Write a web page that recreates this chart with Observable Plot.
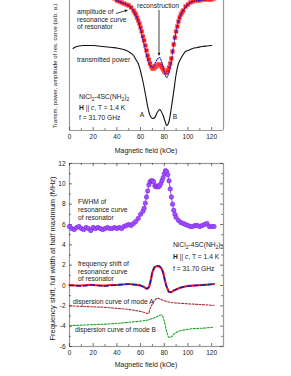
<!DOCTYPE html>
<html><head><meta charset="utf-8">
<script src="https://cdn.jsdelivr.net/npm/d3@7"></script>
<script src="https://cdn.jsdelivr.net/npm/@observablehq/plot@0.6"></script>
<style>
html,body{margin:0;padding:0;background:#fff;}
#wrap{position:relative;width:291px;height:376px;overflow:hidden;background:#fff;}
#wrap svg{position:absolute;left:0;}
</style></head><body><div id="wrap"></div>
<script>
// ---------- Top panel data (arb. units) ----------
const ampField = [36,38,40,42,44,46,48,50,52,54,55,56,57,58,59,60,61,62,63,64,65,66,67,68,69,70,71,72,73,74,75,76,77,78,79,80,81,82,83,84,85,86,87,88,89,90,91,92,93,94,95,96,98,100,102,104,106,108,110,112,114,116,118,120,122];
const ampValue = [13.3,13.2,13.0,12.9,12.8,12.7,12.6,12.5,12.3,12.0,11.8,11.6,11.3,11.0,10.7,10.3,9.9,9.4,9.0,8.5,8.0,7.5,7.1,6.7,6.4,6.2,6.2,6.3,6.4,6.5,6.6,6.6,6.5,6.3,6.1,5.9,5.8,5.8,6.0,6.3,6.7,7.2,7.9,8.6,9.3,9.9,10.4,10.9,11.3,11.6,11.8,12.0,12.4,12.6,12.8,12.9,13.0,13.0,13.0,13.1,13.1,13.1,13.1,13.1,13.2];
const recField = [36,40,44,48,52,56,58,60,62,64,66,68,70,72,74,76,78,80,82,84,86,88,90,92,94,96,100,104,110,116,122];
const recValue = [13.3,13.0,12.8,12.6,12.3,11.5,10.9,10.1,9.1,8.1,7.1,6.5,6.3,6.7,7.1,7.3,6.8,5.9,5.3,5.8,7.0,8.6,9.9,10.9,11.6,12.0,12.6,12.9,13.0,13.1,13.2];
const trField = [3,5,8,12,16,20,24,28,32,36,40,44,48,51,54,56,58,60,62,64,66,68,70,72,74,76,77,79,81,82,83,84,86,88,90,92,94,96,98,100,104,108,112,116,120];
const trValue = [8.2,8.35,8.45,8.5,8.5,8.5,8.45,8.4,8.35,8.3,8.25,8.15,8.0,7.8,7.5,7.1,6.7,5.9,4.9,3.7,2.4,1.5,1.2,1.3,1.8,2.1,2.0,1.5,0.8,0.5,0.6,0.9,2.3,3.9,5.6,6.7,7.2,7.6,7.9,8.0,8.2,8.3,8.4,8.45,8.5];

// ---------- Bottom panel data (MHz) ----------
const fwField = [0,2,4,6,8,10,12,14,16,18,20,22,24,26,28,30,32,34,36,38,40,42,44,46,48,50,52,54,56,58,60,62,63,64,65,66,67,68,69,70,71,72,73,74,75,76,77,78,79,80,81,82,83,84,85,86,87,88,89,90,92,94,96,98,100,102,104,106,108,110,112,114,116,118,120,122];
const fwValue = [5.8,5.6,5.5,5.7,5.8,5.6,5.5,5.7,5.6,5.4,5.7,5.6,5.7,5.6,5.5,5.6,5.7,5.6,5.6,5.7,5.6,5.7,5.6,5.8,5.9,6.0,5.9,6.1,6.3,6.6,7.0,7.3,7.6,8.1,8.7,9.3,9.9,10.2,10.3,10.3,10.2,9.8,9.7,9.8,9.7,9.8,10.0,10.3,10.6,11.0,11.3,11.2,10.9,10.3,9.5,8.7,8.0,7.4,7.0,6.7,6.4,6.2,6.1,6.0,5.9,5.8,5.8,5.9,5.9,5.8,5.9,6.0,6.1,5.8,5.8,5.8];
const fsField = [0,5,10,15,20,25,30,35,40,45,50,55,60,63,65,66,67,68,69,70,71,72,74,76,77,78,79,80,81,82,83,84,86,88,90,94,100,106,112,118,122];
const fsValue = [0.05,0.0,0.0,0.05,0.05,0.0,0.0,0.05,0.05,0.1,0.15,0.1,0.0,-0.15,-0.3,-0.3,-0.15,0.2,0.7,1.3,1.6,1.8,1.9,1.85,1.75,1.6,1.3,0.8,0.3,-0.1,-0.4,-0.6,-0.65,-0.5,-0.4,-0.2,-0.05,0.0,0.05,0.1,0.15];
const fsRecValue = [0.0,0.0,-0.05,0.0,0.05,0.0,-0.05,0.0,0.05,0.1,0.12,0.08,0.0,-0.2,-0.3,-0.28,-0.1,0.25,0.8,1.35,1.65,1.85,1.95,1.9,1.8,1.6,1.25,0.75,0.25,-0.15,-0.45,-0.62,-0.62,-0.48,-0.38,-0.2,-0.05,0.0,0.05,0.1,0.12];
const aField = [0,10,20,30,40,50,55,60,64,66.5,68,70,72,74,76,80,85,90,100,110,122];
const aValue = [-2.0,-2.05,-2.1,-2.15,-2.25,-2.35,-2.45,-2.55,-2.68,-2.75,-2.3,-1.8,-1.45,-1.25,-1.3,-1.5,-1.65,-1.72,-1.8,-1.87,-1.95];
const bField = [0,10,20,30,40,50,60,66,70,74,77,78.5,80,82,84,86,88,92,98,104,112,122];
const bValue = [-3.95,-3.9,-3.85,-3.8,-3.72,-3.62,-3.5,-3.4,-3.25,-3.05,-2.9,-3.0,-3.5,-4.5,-5.1,-5.05,-4.8,-4.5,-4.35,-4.25,-4.2,-4.1];

// ---------- Ticks ----------
const xMajor = [0,20,40,60,80,100,120];
const xMinor = [10,30,50,70,90,110];
const yMajor = [-6,-4,-2,0,2,4,6,8,10,12];
const yMinor = [-5,-3,-1,1,3,5,7,9,11];

const pts = (xs, ys) => xs.map((x, i) => ({x, y: ys[i]}));
const FONT = "'Liberation Sans', Arial, sans-serif";
const FRAME = "#9a9a9a", TICK = "#333";
const W = 291;
const wrap = document.getElementById("wrap");

// ---------- Top panel ----------
const topPlot = Plot.plot({
  width: W, height: 160,
  marginLeft: 69, marginRight: 68, marginTop: 0, marginBottom: 30,
  style: {fontFamily: FONT, fontSize: "6.5px", color: "#222", background: "transparent"},
  x: {domain: [0, 130]},
  y: {domain: [0, 13], axis: null},
  marks: [
    Plot.ruleX([0, 130], {stroke: FRAME, strokeWidth: 1.2}),
    Plot.ruleY([0], {stroke: FRAME, strokeWidth: 1.2}),
    Plot.ruleX(xMajor, {y1: 0, y2: 0.3, stroke: TICK, strokeWidth: 0.7}),
    Plot.ruleX(xMinor, {y1: 0, y2: 0.18, stroke: TICK, strokeWidth: 0.7}),
    Plot.axisX({ticks: xMajor, tickSize: 0, tickPadding: 4, label: null, fontSize: 6.5}),
    Plot.line(pts(trField, trValue), {x: "x", y: "y", stroke: "#111", strokeWidth: 1.1, curve: "catmull-rom"}),
    Plot.dot(pts(ampField, ampValue), {x: "x", y: "y", symbol: "square", r: 2.2, fill: "#ff1010", stroke: "#ff7070", strokeWidth: 0.5}),
    Plot.line(pts(recField, recValue), {x: "x", y: "y", stroke: "#1a1acc", strokeWidth: 1.1, strokeDasharray: "1,1.4", curve: "catmull-rom"})
  ]
});
topPlot.style.top = "0px";
wrap.append(topPlot);

// ---------- Bottom panel ----------
const botPlot = Plot.plot({
  width: W, height: 226,
  marginLeft: 69, marginRight: 68, marginTop: 13, marginBottom: 30,
  style: {fontFamily: FONT, fontSize: "6.5px", color: "#222", background: "transparent"},
  x: {domain: [0, 130]},
  y: {domain: [-6, 12]},
  marks: [
    Plot.frame({stroke: FRAME, strokeWidth: 1.2}),
    Plot.ruleX(xMajor, {y1: -6, y2: -5.7, stroke: TICK, strokeWidth: 0.7}),
    Plot.ruleX(xMinor, {y1: -6, y2: -5.82, stroke: TICK, strokeWidth: 0.7}),
    Plot.ruleX(xMajor, {y1: 12, y2: 11.7, stroke: TICK, strokeWidth: 0.7}),
    Plot.ruleX(xMinor, {y1: 12, y2: 11.82, stroke: TICK, strokeWidth: 0.7}),
    Plot.ruleY(yMajor, {x1: 0, x2: 2.5, stroke: TICK, strokeWidth: 0.7}),
    Plot.ruleY(yMinor, {x1: 0, x2: 1.5, stroke: TICK, strokeWidth: 0.7}),
    Plot.ruleY(yMajor, {x1: 130, x2: 127.5, stroke: TICK, strokeWidth: 0.7}),
    Plot.ruleY(yMinor, {x1: 130, x2: 128.5, stroke: TICK, strokeWidth: 0.7}),
    Plot.axisX({ticks: xMajor, tickSize: 0, tickPadding: 3.5, label: null, fontSize: 6.5}),
    Plot.axisY({ticks: yMajor, tickSize: 0, tickPadding: 4, label: null, fontSize: 6.5, tickFormat: d => d < 0 ? "-" + Math.abs(d) : d}),
    Plot.line(pts(aField, aValue), {x: "x", y: "y", stroke: "#a8323a", strokeWidth: 1.1, strokeDasharray: "2,1.5", curve: "catmull-rom"}),
    Plot.line(pts(bField, bValue), {x: "x", y: "y", stroke: "#22a022", strokeWidth: 1.1, strokeDasharray: "2,1.5", curve: "catmull-rom"}),
    Plot.line(pts(fsField, fsValue), {x: "x", y: "y", stroke: "#ff1a1a", strokeWidth: 2.2, curve: "catmull-rom"}),
    Plot.line(pts(fsField, fsRecValue), {x: "x", y: "y", stroke: "#1a1ab8", strokeWidth: 1.4, strokeDasharray: "4,3", curve: "catmull-rom"}),
    Plot.line(pts(fwField, fwValue), {x: "x", y: "y", stroke: "#8a2be2", strokeWidth: 0.8}),
    Plot.dot(pts(fwField, fwValue), {x: "x", y: "y", r: 2.2, fill: "#a050ff", stroke: "#7b22e0", strokeWidth: 0.6})
  ]
});
botPlot.style.top = "150px";
wrap.append(botPlot);

// ---------- Annotations ----------
function addText(svg, x, y, parts, o = {}) {
  const t = d3.select(svg).append("text")
    .attr("x", x).attr("y", y).attr("dy", "0.35em")
    .attr("font-family", FONT).attr("font-size", o.size || 6.7)
    .attr("fill", o.fill || "#1a1a1a").attr("text-anchor", o.anchor || "start");
  if (o.rotate) t.attr("transform", `rotate(${o.rotate},${x},${y})`);
  for (const p of parts) {
    if (typeof p === "string") t.append("tspan").text(p);
    else {
      const s = t.append("tspan").text(p.t);
      if (p.sub) { s.attr("dy", 1.6).attr("font-size", (o.size || 6.7) * 0.75); }
      if (p.up) s.attr("dy", -1.6);
      if (p.bold) s.attr("font-weight", "bold");
      if (p.italic) s.attr("font-style", "italic");
    }
  }
  return t;
}
function arrow(svg, x1, y1, x2, y2, head = 3.2) {
  const g = d3.select(svg).append("g");
  const a = Math.atan2(y2 - y1, x2 - x1), c = Math.cos(a), s = Math.sin(a);
  g.append("line").attr("x1", x1).attr("y1", y1).attr("x2", x2 - c * head).attr("y2", y2 - s * head)
    .attr("stroke", "#111").attr("stroke-width", 0.8);
  const bx = x2 - c * head, by = y2 - s * head, w = head * 0.45;
  g.append("path").attr("d", `M${x2},${y2}L${bx - s * w},${by + c * w}L${bx + s * w},${by - c * w}Z`).attr("fill", "#111");
}
const compound = [ "NiCl", {t: "2", sub: true}, {t: "-4SC(NH", up: true}, {t: "2", sub: true}, {t: ")", up: true}, {t: "2", sub: true} ];
const cond = [ {t: "H", bold: true}, " || ", {t: "c", italic: true}, ", T = 1.4 K" ];

// top
addText(topPlot, 77, 12, ["amplitude of"]);
addText(topPlot, 77, 19.5, ["resonance curve"]);
addText(topPlot, 77, 27, ["of resonator"]);
arrow(topPlot, 116, 13.5, 128, 10);
addText(topPlot, 158, 5.5, ["reconstruction"], {anchor: "middle"});
arrow(topPlot, 159, 10, 159, 56);
addText(topPlot, 77, 60, ["transmitted power"]);
addText(topPlot, 79, 97, compound);
addText(topPlot, 79, 108, cond);
addText(topPlot, 79, 118, ["f = 31.70 GHz"]);
addText(topPlot, 142, 115, ["A"], {anchor: "middle"});
addText(topPlot, 175, 117, ["B"], {anchor: "middle"});
addText(topPlot, 146, 151, ["Magnetic field (kOe)"], {anchor: "middle", size: 7});
addText(topPlot, 55, 128.5, ["Transm. power, amplitude of res. curve (arb. u.)"], {rotate: -90, size: 5.95});

// bottom (svg offset 150)
addText(botPlot, 78, 52, ["FWHM of"]);
addText(botPlot, 78, 60, ["resonance curve"]);
addText(botPlot, 78, 68, ["of resonator"]);
addText(botPlot, 173, 95, compound);
addText(botPlot, 173, 107, cond);
addText(botPlot, 173, 119, ["f = 31.70 GHz"]);
addText(botPlot, 78, 114, ["frequency shift of"]);
addText(botPlot, 78, 121.5, ["resonance curve"]);
addText(botPlot, 78, 129, ["of resonator"]);
addText(botPlot, 73, 152, ["dispersion curve of mode A"]);
addText(botPlot, 75, 180, ["dispersion curve of mode B"]);
addText(botPlot, 146, 215, ["Magnetic field (kOe)"], {anchor: "middle", size: 7});
addText(botPlot, 52, 108.5, ["Frequency shift, full width at half maximum (MHz)"], {rotate: -90, anchor: "middle", size: 7.5});
</script></body></html>
